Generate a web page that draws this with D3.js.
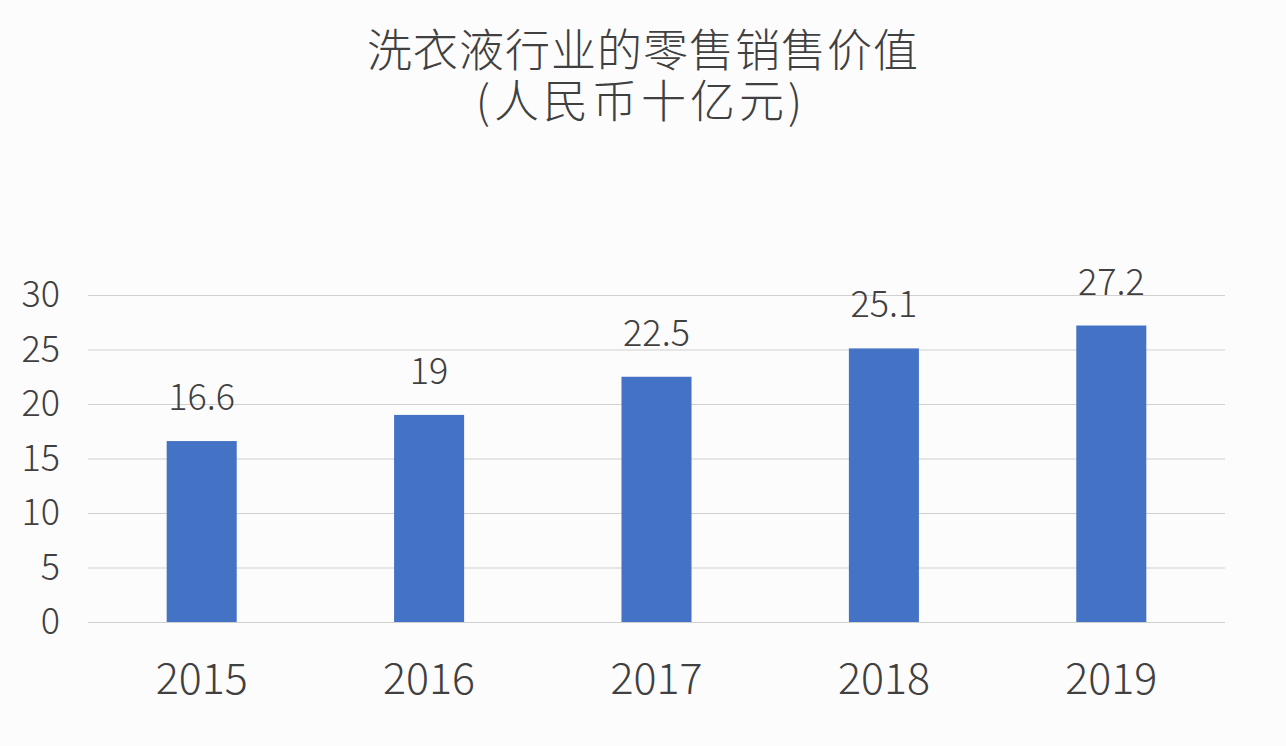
<!DOCTYPE html>
<html>
<head>
<meta charset="utf-8">
<script src="https://cdn.jsdelivr.net/npm/d3@7"></script>
<style>
  html, body { margin: 0; padding: 0; background: #fdfcfd; }
  svg { display: block; }
  text { font-family: "Noto Sans CJK SC", "Noto Sans", sans-serif; font-weight: 300; fill: #404040; }
</style>
</head>
<body>
<svg id="chart" width="1286" height="746"></svg>
<script>
const categories = ["2015", "2016", "2017", "2018", "2019"];
const values = [16.6, 19, 22.5, 25.1, 27.2];
const yTicks = [0, 5, 10, 15, 20, 25, 30];
const titleLines = ["洗衣液行业的零售销售价值", "(人民币十亿元)"];

const W = 1286, H = 746;
const margin = { left: 88, right: 61, top: 295, bottom: 124 };
const svg = d3.select("#chart");
svg.append("rect").attr("width", W).attr("height", H).attr("fill", "#fdfcfd");

const x = d3.scaleBand().domain(categories)
  .range([margin.left, W - margin.right]).paddingInner(0.692).paddingOuter(0.346);
const y = d3.scaleLinear().domain([0, 30]).range([H - margin.bottom, margin.top]);

// title
svg.append("g").selectAll("text").data(titleLines).join("text")
  .attr("x", (d, i) => i === 0 ? 643 : 641)
  .attr("y", (d, i) => 67 + i * 51)
  .attr("text-anchor", "middle")
  .style("font-size", "45px")
  .style("letter-spacing", (d, i) => i === 0 ? "1px" : "4px")
  .text(d => d);

// gridlines
const grid = d3.axisLeft(y).tickValues(yTicks)
  .tickSize(-(W - margin.left - margin.right)).tickFormat("");
const gg = svg.append("g").attr("transform", `translate(${margin.left},0)`).call(grid);
gg.select(".domain").remove();
gg.selectAll(".tick line").attr("stroke", "#d0d0d0").attr("stroke-width", 1.2);

// y labels
const ya = d3.axisLeft(y).tickValues(yTicks).tickSize(0).tickPadding(0);
const yg = svg.append("g").attr("transform", `translate(60,0)`).call(ya);
yg.select(".domain").remove();
yg.selectAll(".tick text")
  .attr("fill", "#404040")
  .style("font-size", "36px")
  .style("font-family", '"Noto Sans CJK SC", "Noto Sans", sans-serif')
  .attr("dy", "0.32em");

// bars
svg.append("g").selectAll("rect").data(values).join("rect")
  .attr("x", (d, i) => x(categories[i]))
  .attr("width", x.bandwidth())
  .attr("y", d => y(d))
  .attr("height", d => y(0) - y(d))
  .attr("fill", "#4472c4");

// value labels
svg.append("g").selectAll("text").data(values).join("text")
  .attr("x", (d, i) => x(categories[i]) + x.bandwidth() / 2)
  .attr("y", d => y(d) - 31)
  .attr("text-anchor", "middle")
  .style("font-size", "36px")
  .text(d => d);

// x labels
const xa = d3.axisBottom(x).tickSize(0).tickPadding(0);
const xg = svg.append("g").attr("transform", `translate(0,${H - margin.bottom})`).call(xa);
xg.select(".domain").remove();
xg.selectAll(".tick text")
  .attr("fill", "#404040")
  .attr("y", 72).attr("dy", 0)
  .style("font-size", "43px")
  .style("font-family", '"Noto Sans CJK SC", "Noto Sans", sans-serif');
</script>
</body>
</html>
